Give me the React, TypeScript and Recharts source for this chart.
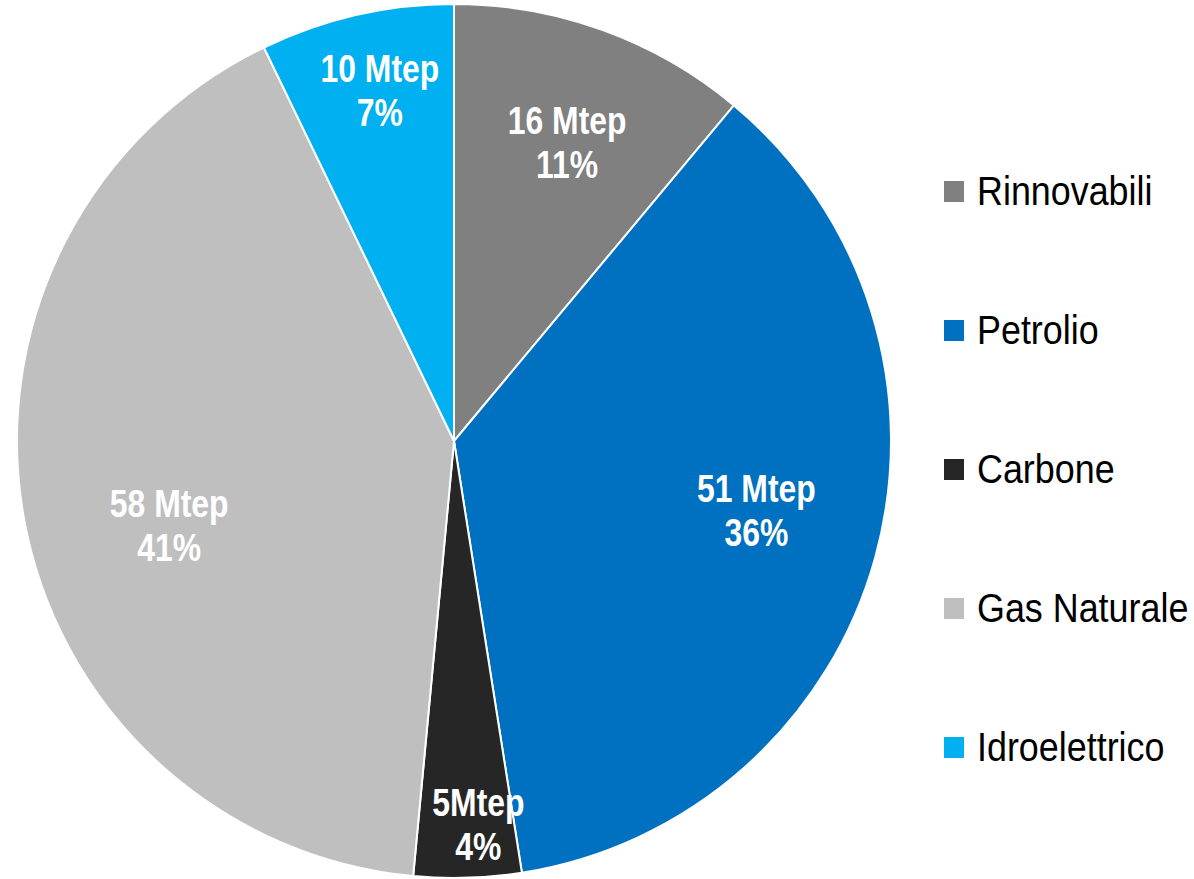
import React from "react";
import { PieChart, Pie, Cell, Legend } from "recharts";

const categories = ["Rinnovabili", "Petrolio", "Carbone", "Gas Naturale", "Idroelettrico"];
// values (labels show rounded Mtep)
const valuesMtep = [15.6, 51.4, 5.6, 58.3, 10.1];
const valueLabels = ["16 Mtep", "51 Mtep", "5Mtep", "58 Mtep", "10 Mtep"];
const percentLabels = ["11%", "36%", "4%", "41%", "7%"];
const colors = ["#808080", "#0070C0", "#262626", "#BFBFBF", "#00B0F0"];

// label placement styling (fraction of radius, angle shift in degrees)
const labelRadiusFactor = [0.73, 0.71, 0.88, 0.68, 0.82];
const labelAngleShift = [-0.85, 2.5, 1.85, 6.35, -0.95];

const data = categories.map((name, i) => ({
  name,
  value: valuesMtep[i],
  vLabel: valueLabels[i],
  pLabel: percentLabels[i],
}));

const RAD = Math.PI / 180;

const renderLabel = (props: any) => {
  const { cx, cy, midAngle, outerRadius, index } = props;
  const r = outerRadius * labelRadiusFactor[index];
  const a = (midAngle + labelAngleShift[index]) * RAD;
  const x = cx + r * Math.cos(a);
  const y = cy - r * Math.sin(a);
  return (
    <text
      transform={`translate(${x}, ${y}) scale(0.84, 1)`}
      textAnchor="middle"
      fill="#ffffff"
      fontFamily="'Liberation Sans', Arial, sans-serif"
      fontWeight="bold"
      fontSize={38}
    >
      <tspan x={0} y={-22} dominantBaseline="central">{data[index].vLabel}</tspan>
      <tspan x={0} y={22} dominantBaseline="central">{data[index].pLabel}</tspan>
    </text>
  );
};

const renderLegend = () => (
  <div style={{ position: "relative", width: 250, height: 700 }}>
    {data.map((d, i) => (
      <div
        key={d.name}
        style={{
          position: "absolute",
          left: 0,
          top: i * 139,
          height: 40,
          display: "flex",
          alignItems: "center",
          whiteSpace: "nowrap",
        }}
      >
        <span
          style={{
            display: "inline-block",
            width: 20,
            height: 21,
            background: colors[i],
            marginRight: 13,
          }}
        />
        <span
          style={{
            display: "inline-block",
            fontFamily: "'Liberation Sans', Arial, sans-serif",
            fontSize: 41,
            color: "#000000",
            transform: "scaleX(0.875)",
            transformOrigin: "left center",
            lineHeight: "40px",
          }}
        >
          {d.name}
        </span>
      </div>
    ))}
  </div>
);

export default function App() {
  return (
    <div style={{ position: "absolute", left: 0, top: 0, width: 1194, height: 879, background: "#fff" }}>
      <PieChart width={1194} height={879} margin={{ top: 0, right: 0, bottom: 0, left: 0 }}>
        <Pie
          data={data}
          dataKey="value"
          nameKey="name"
          cx={454}
          cy={441}
          outerRadius={437}
          startAngle={90}
          endAngle={-270}
          stroke="#ffffff"
          strokeWidth={2}
          label={renderLabel}
          labelLine={false}
          isAnimationActive={false}
        >
          {data.map((d, i) => (
            <Cell key={d.name} fill={colors[i]} />
          ))}
        </Pie>
        <Legend
          content={renderLegend}
          wrapperStyle={{ position: "absolute", left: 944, top: 171, width: 250 }}
        />
      </PieChart>
    </div>
  );
}
